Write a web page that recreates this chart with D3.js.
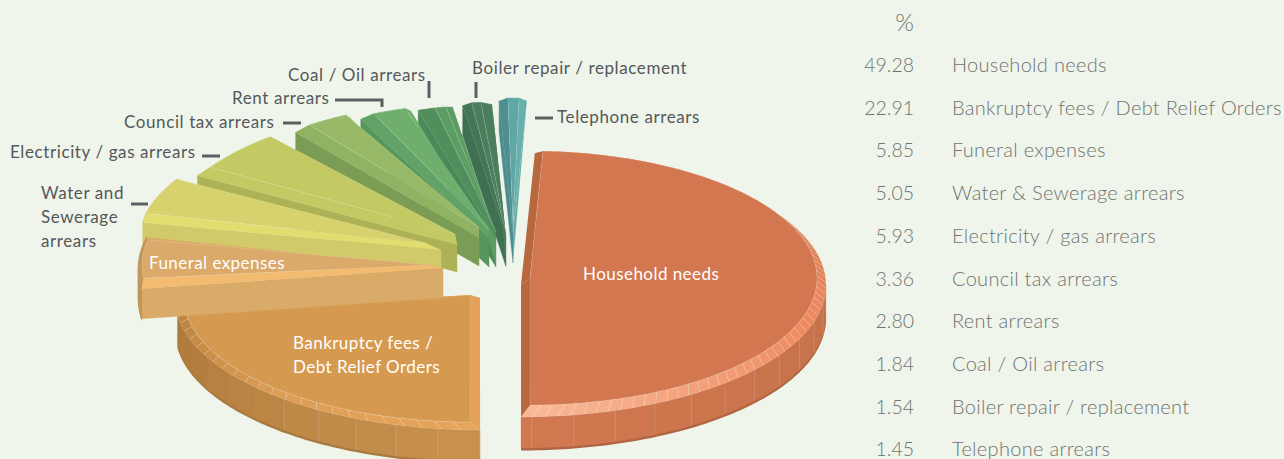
<!DOCTYPE html>
<html><head><meta charset="utf-8">
<script src="https://cdn.jsdelivr.net/npm/d3@7"></script>
<style>html,body{margin:0;padding:0;background:#eff5ea;overflow:hidden}svg{display:block}text{font-family:Lato,sans-serif}</style>
</head><body><svg id="c" width="1284" height="459"></svg>
<script>
// ---- data ----
const categories=["Household needs","Bankruptcy fees / Debt Relief Orders","Funeral expenses","Water & Sewerage arrears","Electricity / gas arrears","Council tax arrears","Rent arrears","Coal / Oil arrears","Boiler repair / replacement","Telephone arrears"];
const values=[49.28,22.91,5.85,5.05,5.93,3.36,2.80,1.84,1.54,1.45];
// ---- layout of the exploded pie ----
const outerX=[521,480,443,441,457,479,489,496,506,513];
const outerY=[285,298,268,250,245,238,239,238,236.5,233];
const faceX=[530,470,429,425,455,479,489,496,505,513];
const faceY=[278,295,265,243,234,227.5,230,232,229,225];
const inset0=[0,0,1.6,0,0,.7,1.2,2.5,1.5,1.6];
const inset1=[0,0,2.1,1.5,3,2.8,2.2,1.9,2.2,1.4];
const outerTrim=[0,0,-1.5,-1.5,0,0,0,0,0,0];
const depths=[31,31,30,30,27,28,28,29,30,30];
const faceCol=["#d37750","#d59a50","#dba96a","#d8d26e","#c3c963","#98ba68","#70ae6e","#5b9d62","#4b7e5c","#5fa6a5"];
const stripCol=["#b8673f","#e3a257","#f3bb70","#e3dd70","#c3c963","#8fb263","#62a267","#518e5b","#44765a","#4f8f90"];
const endCol=["#b8673f","#e3a257","#dba96a","#d8d26e","#c3c963","#98ba68","#70ae6e","#5b9d62","#4b7e5c","#68b0ac"];
const wallCol=["#d27850","#c8924e","#d9aa68","#d1c96a","#acb255","#7b9c55","#56965a","#4a8a5a","#3f7052","#4d8c90"];
const wallToneA=["#c4714a","#c8924e","#c0965a","#d1c96a","#acb255","#7b9c55","#56965a","#4a8a5a","#3f7052","#4d8c90"];
const wallToneB=["#d27850","#b07a3c","#c0965a","#d1c96a","#acb255","#7b9c55","#56965a","#4a8a5a","#3f7052","#4d8c90"];
const wallHairTo=[180,226,0,0,0,0,0,0,0,0];
const bevelStep=[2.4,3.6,3.6,3.6,3.6,3.6,3.6,3.6,3.6,3.6];
const arcStops=[["#d87c54","#ee8a60","#f8b896"],["#e8a55a","#dc9d55","#bb8340"],["#c0965a","#c0965a"],["#bdb15e","#bdb15e"],["#c3c963","#c3c963"],["#98ba68","#98ba68"],["#70ae6e","#70ae6e"],["#5b9d62","#5b9d62"],["#4b7e5c","#4b7e5c"],["#65aeaa","#65aeaa"]];
const paintOrder=[9,8,7,6,5,4,3,1,2,0];
const tipTriangle=[7,8,9];
const R={ox:305,oy:132,fx:287,fy:127};
// ---- scales ----
const total=d3.sum(values);
const angle=d3.scaleLinear().domain([0,total]).range([2.6,362.6]);
const rowY=d3.scaleLinear().domain([0,1]).range([72,114.7]);
const rad=d=>d*Math.PI/180;
const cum=d3.cumsum(values);
const slices=values.map((v,i)=>({i,a0:angle(i?cum[i-1]:0),a1:angle(cum[i])}));
const rimO=(i,a)=>[outerX[i]+R.ox*Math.sin(rad(a)),outerY[i]-R.oy*Math.cos(rad(a))];
const rimF=(i,a)=>[faceX[i]+R.fx*Math.sin(rad(a)),faceY[i]-R.fy*Math.cos(rad(a))];
const svgEl=d3.select("#c");
const line=d3.line();
const poly=pts=>line(pts)+"Z";
const sweep=(a0,a1,step)=>{const s=d3.range(a0,a1,step);s.push(a1);return s;};
const hair="rgba(255,255,255,.25)";
const gPie=svgEl.append("g");
paintOrder.map(i=>slices[i]).forEach(s=>{
  const i=s.i,g=gPie.append("g");
  const down=p=>[p[0],p[1]+depths[i]];
  const o0=s.a0+outerTrim[i];
  const f0=s.a0+inset0[i],f1=s.a1-inset1[i];
  const toFace=d3.scaleLinear().domain([o0,s.a1]).range([f0,f1]);
  const A=[outerX[i],outerY[i]],F=[faceX[i],faceY[i]];
  const P0=rimO(i,o0),P1=rimO(i,s.a1),Q0=rimF(i,f0),Q1=rimF(i,f1);
  if(s.a0>180) g.append("path").attr("d",poly([A,P0,down(P0),down(A)])).attr("fill",wallCol[i]).attr("stroke",wallCol[i]).attr("stroke-width",.4);
  if(tipTriangle.includes(i)) g.append("path").attr("d",poly([A,P1,down(A)])).attr("fill",endCol[i]);
  // curved outer wall
  const w0=Math.max(o0,90),w1=Math.min(s.a1,270);
  if(w1>w0){
    const top=sweep(w0,w1,1).map(a=>rimO(i,a));
    const dark=d3.color(wallCol[i]).darker(.5);
    g.append("path").attr("d",poly(top.concat(top.map(p=>[p[0],p[1]+depths[i]+2.5]).reverse()))).attr("fill",dark);
    const tone=d3.scaleLinear().domain([w1,w0]).range([wallToneB[i],wallToneA[i]]);
    d3.pairs(sweep(w0,w1,8)).forEach(([a,b])=>{
      const ps=sweep(a,b,1).map(x=>rimO(i,x));
      g.append("path").attr("d",poly(ps.concat(ps.map(down).reverse()))).attr("fill",tone((a+b)/2)).attr("stroke",tone((a+b)/2)).attr("stroke-width",.3);
      if(a<wallHairTo[i]) g.append("path").attr("d",line([ps[0],down(ps[0])])).attr("stroke",hair).attr("stroke-width",.7).attr("fill","none");
    });
  }
  // bevel along the curved rim
  const n=arcStops[i].length;
  const cs=d3.scaleLinear().domain(d3.range(n).map(k=>o0+k*(s.a1-o0)/(n-1))).range(arcStops[i]);
  const col=a=>(i===0?d3.scaleLinear().domain([60,110,180]).range(arcStops[0]).clamp(true)(a):cs(a));
  d3.pairs(sweep(o0,s.a1,bevelStep[i])).forEach(([a,b])=>{
    const m=(a+b)/2;
    g.append("path").attr("d",poly([rimO(i,a),rimO(i,m),rimO(i,b),rimF(i,toFace(b)),rimF(i,toFace(m)),rimF(i,toFace(a))]))
      .attr("fill",col(m)).attr("stroke",s.a1-s.a0>50?hair:col(m)).attr("stroke-width",.5);
  });
  // bevels along the two cut edges
  g.append("path").attr("d",poly([A,P1,Q1,F])).attr("fill",endCol[i]);
  g.append("path").attr("d",poly([A,P0,Q0,F])).attr("fill",stripCol[i]);
  // top face
  g.append("path").attr("d",poly([F].concat(sweep(f0,f1,1).map(a=>rimF(i,a))))).attr("fill",faceCol[i]).attr("stroke",hair).attr("stroke-width",.5);
});
// ---- leader lines ----
const leaders=[[[535,118],[553,118]],[[476,82],[476,98]],[[429,81],[429,98]],[[335,100],[382,100],[382,107]],[[283,123],[301,123]],[[202,156],[220,156]],[[131,204],[148,204]]];
svgEl.append("g").selectAll("path").data(leaders).join("path").attr("d",d=>line(d)).attr("fill","none").attr("stroke","#5d6062").attr("stroke-width",3);
// ---- labels ----
const labelDark=[["Telephone arrears",557,123],["Boiler repair / replacement",472,74],["Coal / Oil arrears",288,81],["Rent arrears",232,104],["Council tax arrears",124,128],["Electricity / gas arrears",10,158],["Water and",41,199],["Sewerage",41,223],["arrears",41,247]];
const labelWhite=[["Funeral expenses",149,269],["Bankruptcy fees /",293,349],["Debt Relief Orders",293,373],["Household needs",583,280]];
const lab=(rows,fill,ls)=>svgEl.append("g").selectAll("text").data(rows).join("text").text(d=>d[0]).attr("x",d=>d[1]).attr("y",d=>d[2]).attr("fill",fill).attr("font-size",17).attr("font-weight",400).attr("letter-spacing",ls);
lab(labelDark,"#55585a",.6);lab(labelWhite,"#ffffff",.45);
// ---- table ----
const tbl=svgEl.append("g").attr("fill","#6f7372").attr("font-weight",300);
tbl.append("text").attr("x",914).attr("y",31).attr("text-anchor","end").attr("font-size",24).text("%");
tbl.selectAll(".v").data(values).join("text").attr("class","v").attr("x",914).attr("y",(d,i)=>rowY(i)).attr("text-anchor","end").attr("font-size",19.5).text(d=>d.toFixed(2));
tbl.selectAll(".n").data(categories).join("text").attr("class","n").attr("x",952).attr("y",(d,i)=>rowY(i)).attr("font-size",20).attr("letter-spacing",.3).text(d=>d);
</script></body></html>
